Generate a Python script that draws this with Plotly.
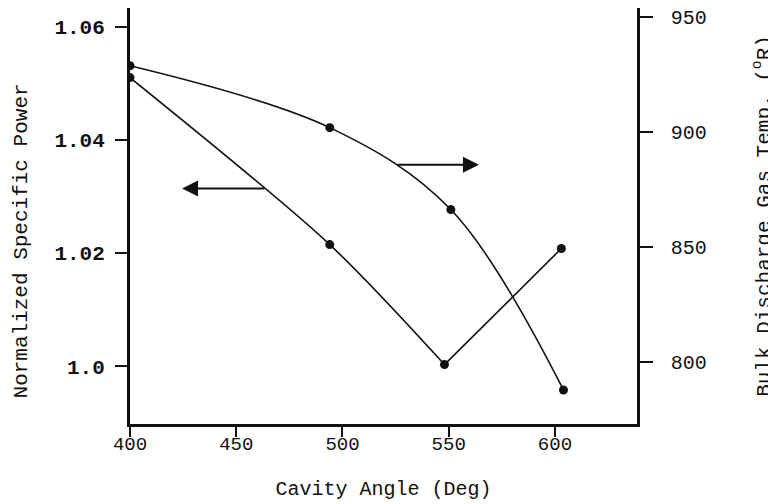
import plotly.graph_objects as go

# Data
power_x = [400, 494, 548, 603]
power_y = [1.051, 1.0215, 1.0003, 1.0208]
temp_x = [400, 494, 551, 604]
temp_y = [928.8, 901.9, 866.3, 787.9]

x_ticks = [400, 450, 500, 550, 600]
left_ticks = [1.0, 1.02, 1.04, 1.06]
left_ticktext = ["1.0", "1.02", "1.04", "1.06"]
right_ticks = [800, 850, 900, 950]

FONT = "Liberation Mono"
BLACK = "#111111"

fig = go.Figure()

# Power curve: smooth part then straight rise
fig.add_trace(go.Scatter(x=power_x[:3], y=power_y[:3], mode="lines",
                         line=dict(color=BLACK, width=1.6, shape="spline", smoothing=0.8),
                         showlegend=False, hoverinfo="skip"))
fig.add_trace(go.Scatter(x=power_x[2:], y=power_y[2:], mode="lines",
                         line=dict(color=BLACK, width=1.6),
                         showlegend=False, hoverinfo="skip"))
fig.add_trace(go.Scatter(x=power_x, y=power_y, mode="markers",
                         marker=dict(color=BLACK, size=9),
                         showlegend=False, name="Normalized Specific Power"))

# Temperature curve on right axis
fig.add_trace(go.Scatter(x=temp_x, y=temp_y, mode="lines+markers", yaxis="y2",
                         line=dict(color=BLACK, width=1.6, shape="spline", smoothing=1.0),
                         marker=dict(color=BLACK, size=9),
                         showlegend=False, name="Bulk Discharge Gas Temp."))

fig.update_layout(
    width=768, height=496,
    margin=dict(l=122, r=139, t=0, b=80),
    paper_bgcolor="white", plot_bgcolor="white",
    font=dict(family=FONT, color=BLACK, size=18),
    xaxis=dict(range=[400, 638.6], tickvals=x_ticks, ticks="outside", ticklen=10,
               tickwidth=1.5, tickcolor=BLACK, ticklabelstandoff=-10,
               showline=True, linewidth=2.5,
               linecolor=BLACK, showgrid=False, zeroline=False, automargin=False,
               tickfont=dict(family=FONT, size=19),
               title=dict(text="Cavity Angle (Deg)", font=dict(family=FONT, size=20),
                          standoff=27)),
    yaxis=dict(range=[0.9898, 1.0633], tickvals=left_ticks, ticktext=left_ticktext,
               ticks="outside", ticklen=12, tickwidth=1.5, tickcolor=BLACK,
               ticklabelstandoff=6, ticklabeloverflow="allow",
               showline=True, linewidth=3, linecolor=BLACK, showgrid=False,
               zeroline=False, automargin=False,
               tickfont=dict(family=FONT, size=21, weight="bold")),
    yaxis2=dict(range=[773.1, 953.9], tickvals=right_ticks, overlaying="y", side="right",
                ticks="outside", ticklen=13, tickwidth=1.5, tickcolor=BLACK,
                ticklabelstandoff=14, ticklabeloverflow="allow",
                showline=True, linewidth=2.5, linecolor=BLACK, showgrid=False,
                zeroline=False, automargin=False, tickfont=dict(family=FONT, size=20),
                title=dict(text="Bulk Discharge Gas Temp. (<sup>o</sup>R)",
                           font=dict(family=FONT, size=21), standoff=58)),
)

# Left axis title (placed lower than domain centre, as in the reference)
fig.add_annotation(text="Normalized Specific Power", textangle=-90,
                   xref="paper", yref="paper", x=-0.214, y=0.44,
                   xanchor="center", yanchor="middle", showarrow=False,
                   font=dict(family=FONT, size=21, color=BLACK))

# Arrows pointing to the relevant axis
fig.add_annotation(x=424.5, y=1.0314, ax=464, ay=1.0314, xref="x", yref="y",
                   axref="x", ayref="y", showarrow=True, arrowhead=2, arrowsize=1.6,
                   arrowwidth=2, arrowcolor=BLACK, text="")
fig.add_annotation(x=564.2, y=885.8, ax=525.2, ay=885.8, xref="x", yref="y2",
                   axref="x", ayref="y2", showarrow=True, arrowhead=2, arrowsize=1.6,
                   arrowwidth=2, arrowcolor=BLACK, text="")

fig.write_html("out.html")
